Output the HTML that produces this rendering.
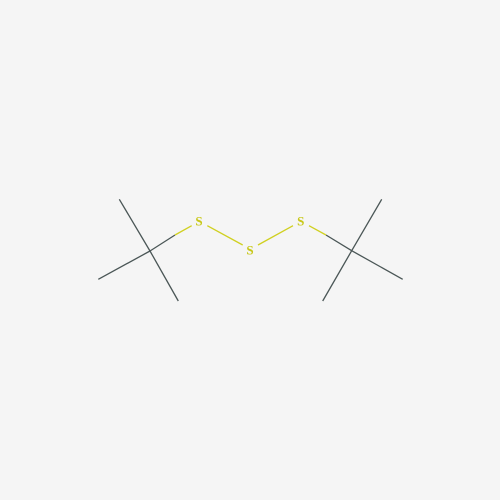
<!DOCTYPE html>
<html><head><meta charset="utf-8"><style>html,body{margin:0;padding:0;background:#f5f5f5}svg{display:block}</style></head>
<body>
<svg width="500" height="500" viewBox="0 0 500 500">
<rect width="500" height="500" fill="#f5f5f5"/>
<g stroke="#4a5656" stroke-width="1.3">
<line x1="150" y1="251" x2="119.3" y2="199.3"/>
<line x1="150" y1="251" x2="178.3" y2="301"/>
<line x1="150" y1="251" x2="98.3" y2="279.3"/>
<line x1="150" y1="251" x2="175" y2="235"/>
<line x1="351.7" y1="250.7" x2="381.7" y2="199.3"/>
<line x1="351.7" y1="250.7" x2="402.7" y2="279.3"/>
<line x1="351.7" y1="250.7" x2="322.7" y2="301"/>
<line x1="351.7" y1="250.7" x2="326" y2="235"/>
</g>
<g stroke="#d0d020" stroke-width="1.3">
<line x1="175" y1="235" x2="191.7" y2="225.7"/>
<line x1="326" y1="235" x2="309" y2="225.7"/>
<line x1="207.3" y1="225.7" x2="242.7" y2="245"/>
<line x1="258" y1="245" x2="293" y2="225.7"/>
</g>
<g fill="#c8c818" font-family="Liberation Serif, serif" font-size="13" font-weight="bold" text-anchor="middle" dominant-baseline="central">
<text x="199" y="221">S</text>
<text x="250" y="250">S</text>
<text x="300.7" y="221">S</text>
</g>
</svg>
</body></html>
